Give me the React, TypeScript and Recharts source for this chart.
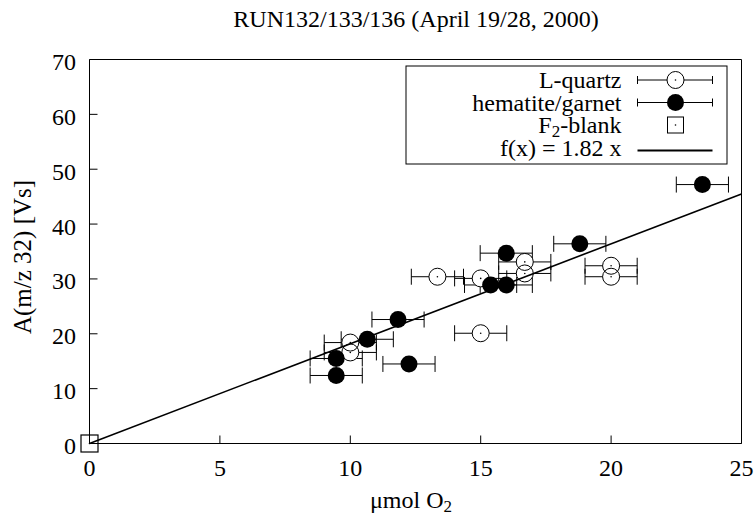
import React from 'react';
import { ScatterChart, Scatter, XAxis, YAxis, ErrorBar, Legend, Label } from 'recharts';

// ---- data ----
const quartzX = [13.34, 15.0, 16.69, 16.69, 20.0, 20.0, 15.0, 10.0, 10.0];
const quartzY = [30.4, 30.1, 33.1, 31.0, 32.4, 30.4, 20.1, 18.4, 16.6];
const hematiteX = [15.38, 15.98, 15.98, 18.8, 23.5, 11.83, 10.65, 9.46, 9.46, 12.25];
const hematiteY = [28.9, 28.9, 34.7, 36.4, 47.2, 22.6, 19.0, 15.5, 12.4, 14.5];
const xError = 1.0;
const blankX = [0];
const blankY = [0];
const fitSlope = 1.82;
const fitX = [0, 25];
const xTicks = [0, 5, 10, 15, 20, 25];
const yTicks = [0, 10, 20, 30, 40, 50, 60, 70];
const seriesNames = ['L-quartz', 'hematite/garnet', 'F2-blank', 'f(x) = 1.82 x'];
const title = 'RUN132/133/136 (April 19/28, 2000)';

const quartzData = quartzX.map((x, i) => ({ x, y: quartzY[i], ex: xError }));
const hematiteData = hematiteX.map((x, i) => ({ x, y: hematiteY[i], ex: xError }));
const blankData = blankX.map((x, i) => ({ x, y: blankY[i] }));
const fitData = fitX.map((x) => ({ x, y: fitSlope * x }));

const FONT = 'Liberation Serif, Times New Roman, serif';
const FS = 24;
const R = 8.5;

const QuartzFill = (p: any) => <circle cx={p.cx} cy={p.cy} r={R} fill="#fff" />;
const QuartzOutline = (p: any) => (
  <g>
    <circle cx={p.cx} cy={p.cy} r={R} fill="none" stroke="#000" strokeWidth={1} />
    <circle cx={p.cx} cy={p.cy} r={0.8} fill="#000" />
  </g>
);
const Filled = (p: any) => <circle cx={p.cx} cy={p.cy} r={R} fill="#000" />;
const Square = (p: any) => (
  <g>
    <rect x={p.cx - 8.5} y={p.cy - 8.5} width={17} height={17} fill="none" stroke="#000" strokeWidth={1.2} />
    <circle cx={p.cx} cy={p.cy} r={0.8} fill="#000" />
  </g>
);
const NoShape = () => <g />;

const LegendBox = () => {
  const rows = [80.5, 103, 125.5, 148];
  const ox = 406.5;
  const oy = 66.5;
  const textX = 622 - ox;
  const sx1 = 638 - ox;
  const sx2 = 713 - ox;
  const scx = 676 - ox;
  return (
    <svg width={323} height={100} style={{ display: 'block', overflow: 'visible' }}>
      <rect x={0} y={0} width={321} height={98} fill="#fff" stroke="#000" strokeWidth={1} />
      {rows.map((ry, i) => {
        const cy = ry - oy;
        return (
          <g key={i}>
            <text x={textX} y={cy + 8} textAnchor="end" fontFamily={FONT} fontSize={FS} fill="#000">
              {i === 2 ? (
                <>
                  F<tspan dy={4} fontSize={17}>2</tspan>
                  <tspan dy={-4}>-blank</tspan>
                </>
              ) : (
                seriesNames[i]
              )}
            </text>
            {i < 2 && (
              <g stroke="#000" strokeWidth={1}>
                <line x1={sx1} x2={sx2} y1={cy} y2={cy} />
                <line x1={sx1} x2={sx1} y1={cy - 4} y2={cy + 4} />
                <line x1={sx2} x2={sx2} y1={cy - 4} y2={cy + 4} />
              </g>
            )}
            {i === 0 && (
              <g>
                <circle cx={scx} cy={cy} r={R} fill="#fff" stroke="#000" />
                <circle cx={scx} cy={cy} r={0.8} fill="#000" />
              </g>
            )}
            {i === 1 && <circle cx={scx} cy={cy} r={R} fill="#000" />}
            {i === 2 && (
              <g>
                <rect x={scx - 8} y={cy - 8} width={16} height={16} fill="none" stroke="#000" />
                <circle cx={scx} cy={cy} r={0.8} fill="#000" />
              </g>
            )}
            {i === 3 && <line x1={sx1} x2={sx2} y1={cy + 3} y2={cy + 3} stroke="#000" strokeWidth={2} />}
          </g>
        );
      })}
    </svg>
  );
};

const tickStyle = { fontSize: FS, fontFamily: FONT, fill: '#000' };

export default function App() {
  return (
    <div style={{ position: 'absolute', left: 0, top: 0, width: 755, height: 516, background: '#fff' }}>
      <svg width={755} height={40} style={{ position: 'absolute', left: 0, top: 0 }}>
        <text x={416} y={27} textAnchor="middle" fontFamily={FONT} fontSize={FS} fill="#000">
          {title}
        </text>
      </svg>
      <ScatterChart
        width={755}
        height={516}
        margin={{ top: 58.5, right: 12.5, bottom: 71.5, left: 88.5 }}
      >
        <XAxis
          xAxisId="b"
          dataKey="x"
          type="number"
          domain={[0, 25]}
          ticks={xTicks}
          orientation="bottom"
          height={1}
          tickSize={-8}
          tickMargin={23.5}
          tick={tickStyle}
          axisLine={{ stroke: '#000' }}
          tickLine={{ stroke: '#000' }}
        >
          <Label
            content={() => (
              <text x={411} y={508} textAnchor="middle" fontFamily={FONT} fontSize={FS} fill="#000">
                μmol O<tspan dy={4} fontSize={17}>2</tspan>
              </text>
            )}
          />
        </XAxis>
        <XAxis
          xAxisId="t"
          dataKey="x"
          type="number"
          domain={[0, 25]}
          ticks={xTicks}
          orientation="top"
          height={1}
          tickSize={-8}
          tick={false}
          axisLine={{ stroke: '#000' }}
          tickLine={{ stroke: '#000' }}
        />
        <YAxis
          yAxisId="l"
          dataKey="y"
          type="number"
          domain={[0, 70]}
          ticks={yTicks}
          orientation="left"
          width={1}
          tickSize={-8}
          tickMargin={21.5}
          tick={{ ...tickStyle, dy: 2 }}
          axisLine={{ stroke: '#000' }}
          tickLine={{ stroke: '#000' }}
        >
          <Label
            content={() => (
              <text
                x={31}
                y={257}
                transform="rotate(-90 31 257)"
                textAnchor="middle"
                fontFamily={FONT}
                fontSize={25}
                fill="#000"
              >
                A(m/z 32) [Vs]
              </text>
            )}
          />
        </YAxis>
        <YAxis
          yAxisId="r"
          dataKey="y"
          type="number"
          domain={[0, 70]}
          ticks={yTicks}
          orientation="right"
          width={1}
          tickSize={-8}
          tick={false}
          axisLine={{ stroke: '#000' }}
          tickLine={{ stroke: '#000' }}
        />
        <Scatter
          name="quartz-fill"
          data={quartzData}
          xAxisId="b"
          yAxisId="l"
          shape={QuartzFill}
          isAnimationActive={false}
        >
          <ErrorBar dataKey="ex" direction="x" width={8} stroke="#000" strokeWidth={1} />
        </Scatter>
        <Scatter
          name={seriesNames[0]}
          data={quartzData}
          xAxisId="b"
          yAxisId="l"
          shape={QuartzOutline}
          isAnimationActive={false}
        />
        <Scatter
          name={seriesNames[1]}
          data={hematiteData}
          xAxisId="b"
          yAxisId="l"
          shape={Filled}
          isAnimationActive={false}
        >
          <ErrorBar dataKey="ex" direction="x" width={8} stroke="#000" strokeWidth={1} />
        </Scatter>
        <Scatter
          name={seriesNames[2]}
          data={blankData}
          xAxisId="b"
          yAxisId="l"
          shape={Square}
          isAnimationActive={false}
        />
        <Scatter
          name={seriesNames[3]}
          data={fitData}
          xAxisId="b"
          yAxisId="l"
          shape={NoShape}
          line={{ stroke: '#000', strokeWidth: 1.6 }}
          isAnimationActive={false}
        />
        <Legend
          layout="vertical"
          align="center"
          verticalAlign="middle"
          content={LegendBox}
          wrapperStyle={{ position: 'absolute', left: 406, top: 66, width: 323, height: 100, margin: 0 }}
        />
      </ScatterChart>
    </div>
  );
}
